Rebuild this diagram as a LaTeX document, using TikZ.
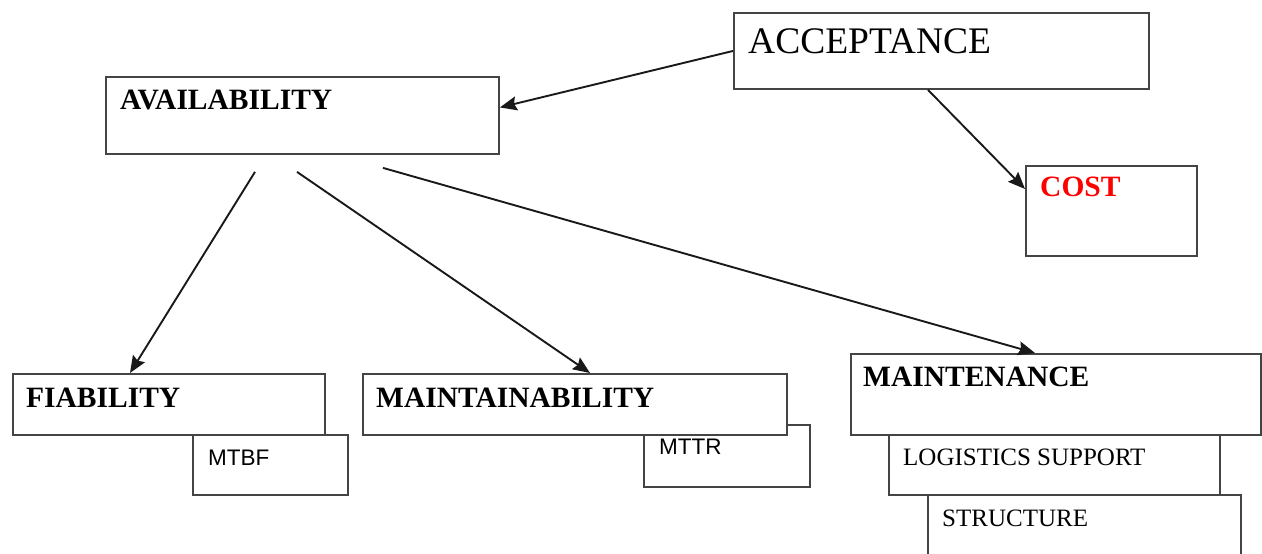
\documentclass[tikz,border=0pt]{standalone}
\usepackage{fontspec}
\setmainfont{Liberation Serif}
\newfontfamily\labelsans{Liberation Sans}
\usetikzlibrary{arrows.meta,calc}

\definecolor{edge}{HTML}{444444}
\definecolor{costred}{HTML}{FF0000}

\tikzset{
  box/.style={draw=edge, line width=1.9pt, fill=white, inner sep=0pt, anchor=north west},
  headtext/.style={anchor=base west, inner sep=0pt, font=\fontsize{29.5}{31}\selectfont\bfseries},
  bigtext/.style={anchor=base west, inner sep=0pt, font=\fontsize{37.5}{39}\selectfont},
  subtext/.style={anchor=base west, inner sep=0pt, font=\fontsize{25}{27}\selectfont},
  sanstext/.style={anchor=base west, inner sep=0pt, font=\labelsans\fontsize{22.5}{24}\selectfont},
  link/.style={draw=black!90, line width=1.9pt, -{Stealth[length=17pt,width=14pt,inset=2.5pt]}}
}

\begin{document}
\begin{tikzpicture}[x=1pt, y=-1pt]
\useasboundingbox (0,0) rectangle (1262,554);
\clip (0,0) rectangle (1262,554);

% top row
\node[box, minimum width=415pt, minimum height=76pt] (acc) at (733,12) {};
\node[bigtext] (acc-t) at (748,53) {ACCEPTANCE};

\node[box, minimum width=393pt, minimum height=77pt] (avail) at (105,76) {};
\node[headtext] (avail-t) at (120,109) {AVAILABILITY};

\node[box, minimum width=171pt, minimum height=90pt] (cost) at (1025,165) {};
\node[headtext, text=costred] (cost-t) at (1040,196) {COST};

% reliability branch
\node[box, minimum width=155pt, minimum height=60pt] (mtbf) at (192,434) {};
\node[sanstext] (mtbf-t) at (208,465) {MTBF};
\node[box, minimum width=312pt, minimum height=61pt] (fia) at (12,373) {};
\node[headtext] (fia-t) at (26,407) {FIABILITY};

% maintainability branch
\node[box, minimum width=166pt, minimum height=62pt] (mttr) at (643,424) {};
\node[sanstext] (mttr-t) at (659,454) {MTTR};
\node[box, minimum width=424pt, minimum height=61pt] (maint) at (362,373) {};
\node[headtext] (maint-t) at (376,407) {MAINTAINABILITY};

% maintenance branch
\node[box, minimum width=313pt, minimum height=70pt] (struct) at (927,494) {};
\node[subtext] (struct-t) at (942,526) {STRUCTURE};
\node[box, minimum width=331pt, minimum height=60pt] (logi) at (888,434) {};
\node[subtext] (logi-t) at (903,465) {LOGISTICS SUPPORT};
\node[box, minimum width=410pt, minimum height=81pt] (mnt) at (850,353) {};
\node[headtext] (mnt-t) at (863,386) {MAINTENANCE};

% connectors
\draw[link] (acc.west) -- ([yshift=8pt]avail.east);
\draw[link] ([xshift=195pt]acc.south west) -- ([yshift=-24pt]cost.north west);
\draw[link] ([shift={(150pt,-17pt)}]avail.south west) -- ([xshift=118pt]fia.north west);
\draw[link] ([shift={(192pt,-17pt)}]avail.south west) -- ([xshift=228pt]maint.north west);
\draw[link] ([shift={(278pt,-13pt)}]avail.south west) -- ([xshift=185pt]mnt.north west);
\end{tikzpicture}
\end{document}
